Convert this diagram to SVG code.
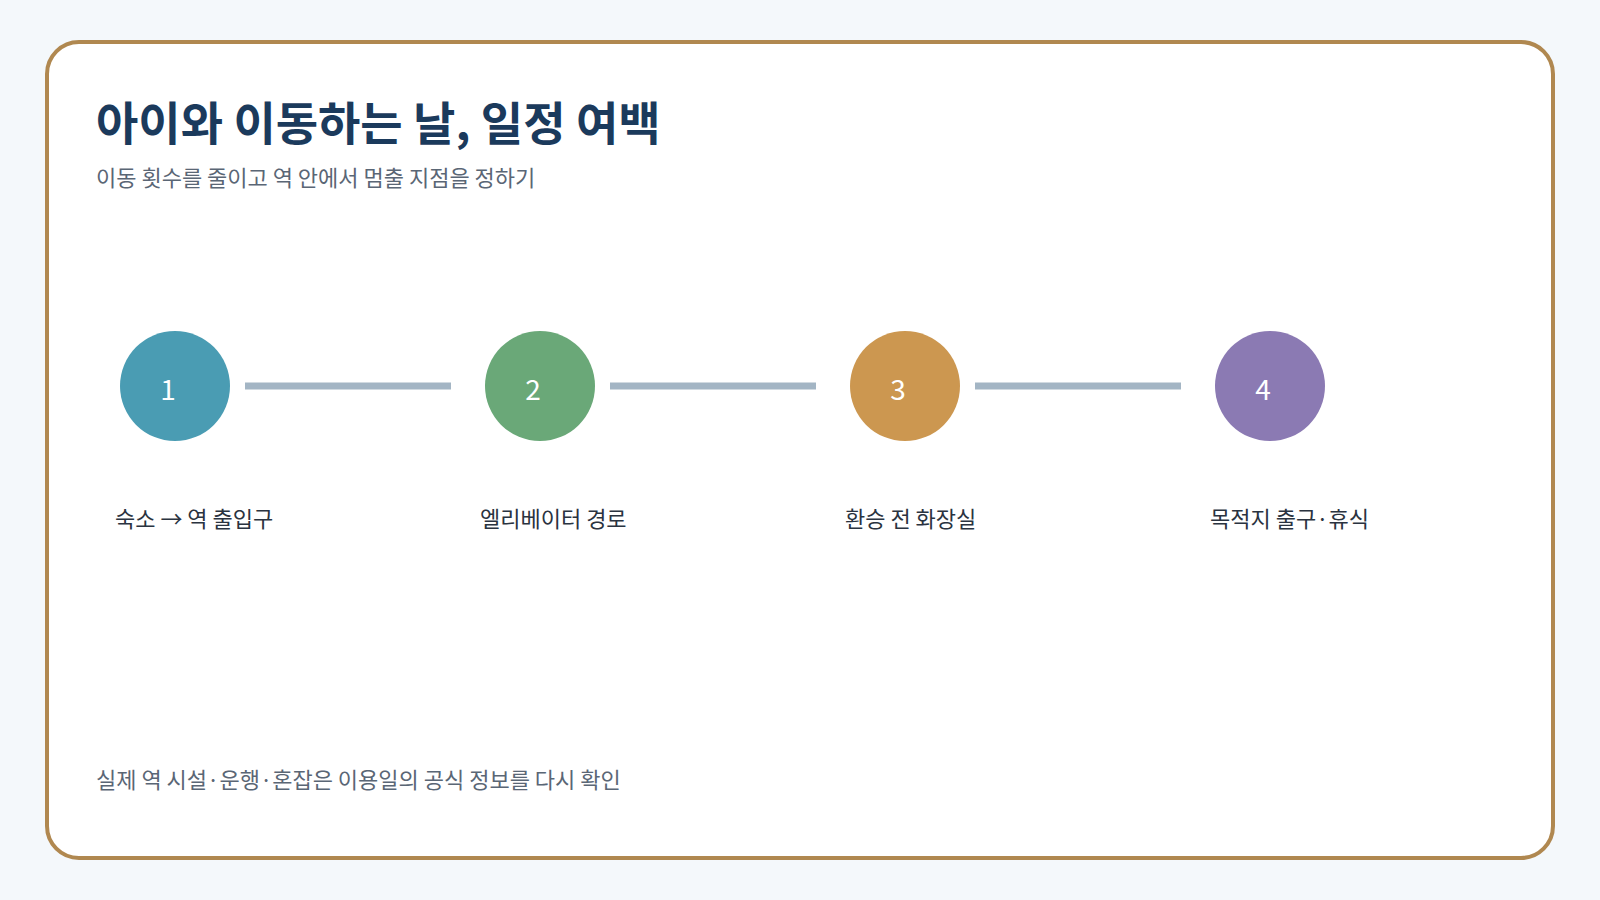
<svg xmlns="http://www.w3.org/2000/svg" width="1600" height="900" viewBox="0 0 1600 900">
<style>
text{font-family:"Noto Sans CJK KR","Noto Sans",sans-serif}
.lbl{font-size:22px;fill:#2a3340}
.num{font-size:28px;fill:#fff;text-anchor:middle}
.conn{stroke:#a3b5c4;stroke-width:7}
</style>
<rect width="1600" height="900" fill="#f4f8fb"/>
<rect x="47" y="42" width="1506" height="816" rx="32" fill="#fff" stroke="#b08850" stroke-width="4"/>
<text x="96" y="140" font-size="46" font-weight="bold" fill="#1b3a5c">아이와 이동하는 날, 일정 여백</text>
<text x="96" y="186" font-size="22" fill="#5a6675">이동 횟수를 줄이고 역 안에서 멈출 지점을 정하기</text>
<g id="connectors">
<line class="conn" x1="245" y1="386" x2="451" y2="386"/>
<line class="conn" x1="610" y1="386" x2="816" y2="386"/>
<line class="conn" x1="975" y1="386" x2="1181" y2="386"/>
</g>
<g id="n1"><circle cx="175" cy="386" r="55" fill="#4a9cb3"/><text class="num" x="168" y="400">1</text><text class="lbl" x="115" y="527">숙소 → 역 출입구</text></g>
<g id="n2"><circle cx="540" cy="386" r="55" fill="#6aa878"/><text class="num" x="533" y="400">2</text><text class="lbl" x="480" y="527">엘리베이터 경로</text></g>
<g id="n3"><circle cx="905" cy="386" r="55" fill="#cc9750"/><text class="num" x="898" y="400">3</text><text class="lbl" x="845" y="527">환승 전 화장실</text></g>
<g id="n4"><circle cx="1270" cy="386" r="55" fill="#8b7ab3"/><text class="num" x="1263" y="400">4</text><text class="lbl" x="1210" y="527">목적지 출구·휴식</text></g>
<text x="96" y="788" font-size="22" fill="#5a6675">실제 역 시설·운행·혼잡은 이용일의 공식 정보를 다시 확인</text>
</svg>
